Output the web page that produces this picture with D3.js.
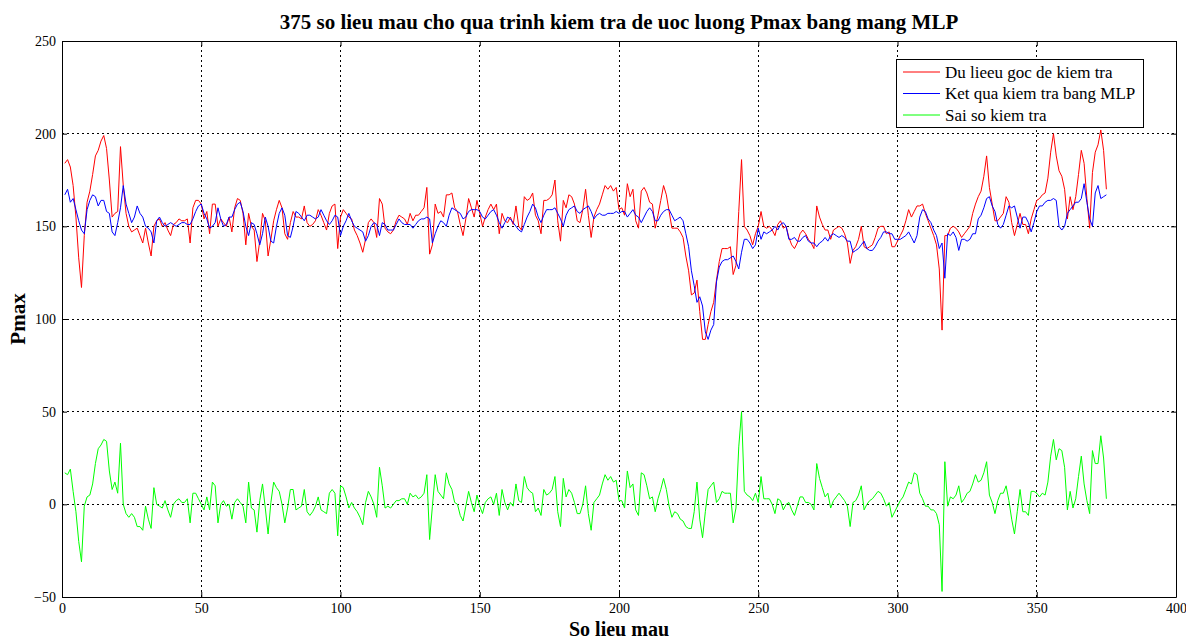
<!DOCTYPE html>
<html>
<head>
<meta charset="utf-8">
<script src="https://cdn.jsdelivr.net/npm/d3@7"></script>
<style>
  body { margin: 0; background: #fff; }
  svg text { font-family: "Liberation Serif", "Times New Roman", serif; }
</style>
</head>
<body>
<div id="wrapper"></div>
<script>
// values, sample index 1..375
const duLieuGoc = [
  184,186,182,172,155,133,117,145,163,169,178,188,191,196,199,192,175,155,157,158,193,172,157,150,147,
  148,149,145,141,149,141,134,150,153,154,150,152,148,145,151,152,154,153,153,154,141,160,164,164,162,
  154,158,146,162,162,150,154,152,150,155,147,160,165,164,157,140,157,150,148,131,142,157,153,134,143,
  153,159,164,160,146,143,152,158,155,155,154,161,152,150,151,153,159,156,152,148,157,161,162,138,155,
  159,157,155,154,148,145,141,136,143,152,154,152,144,165,162,149,147,146,148,153,156,155,154,151,157,
  153,156,156,158,160,171,135,140,162,157,158,155,167,167,168,160,158,151,145,154,165,160,155,164,157,
  150,155,159,162,159,162,146,157,153,152,155,151,161,150,148,166,164,165,168,156,153,146,164,164,165,
  167,175,153,142,164,160,167,166,162,153,152,159,170,156,144,155,159,162,167,172,170,172,169,171,159,
  160,156,173,166,170,153,149,169,171,168,163,162,149,156,164,172,167,158,149,149,149,147,144,134,126,
  113,114,121,104,89,89,97,104,109,121,131,138,138,138,139,124,129,158,186,150,148,145,140,146,150,
  158,150,149,150,148,145,151,153,149,150,144,140,138,141,146,148,146,143,141,138,161,155,151,148,148,
  143,148,149,150,149,146,141,130,137,139,143,150,139,138,139,140,144,149,150,150,146,147,139,139,142,
  145,148,153,159,155,158,161,161,162,157,153,149,145,140,127,94,145,145,149,150,149,147,144,146,148,
  150,157,162,166,169,177,188,171,162,153,153,155,157,166,163,152,145,151,157,151,151,146,154,159,164,
  165,167,168,176,190,200,188,180,177,170,154,166,159,166,178,191,184,165,149,179,190,194,202,191,170
];
const ketQuaMLP = [
  167,170,163,165,159,153,148,146,159,164,167,166,161,164,164,158,157,147,145,152,160,172,162,157,152,
  155,161,157,155,150,149,147,141,153,155,152,150,151,152,151,150,151,152,152,151,151,154,158,161,162,
  157,154,149,150,152,160,154,150,151,155,155,159,162,163,158,150,145,152,151,146,140,146,155,150,142,
  141,150,157,160,156,145,144,150,158,157,155,153,156,156,155,154,155,159,156,153,151,153,156,155,145,
  150,153,157,153,150,149,148,147,142,145,150,152,151,145,152,151,148,148,148,151,154,152,151,151,151,
  149,151,153,154,154,155,154,141,146,150,153,152,150,156,160,159,158,157,154,155,158,159,159,159,158,
  155,154,156,158,159,156,152,149,152,155,154,152,150,148,147,151,155,158,162,160,155,152,156,159,159,
  159,160,157,154,150,156,159,160,161,158,157,159,160,161,158,154,156,157,156,156,157,157,157,158,157,
  158,158,155,157,159,156,155,152,155,158,160,158,153,153,156,158,159,159,156,153,154,155,153,146,139,
  126,118,109,112,107,93,89,94,97,120,128,131,132,132,133,134,131,127,136,143,143,141,138,140,149,
  143,147,146,147,148,150,148,151,152,150,143,143,144,142,142,144,145,142,141,141,139,141,142,144,142,
  145,146,145,144,145,144,142,142,136,137,138,140,142,138,137,137,139,142,144,147,147,146,146,143,143,
  143,144,145,147,144,141,145,155,159,158,154,152,148,145,138,141,122,146,145,147,144,137,143,143,142,
  143,146,146,154,156,160,165,166,161,158,151,149,151,156,161,160,161,155,149,155,155,152,147,152,158,
  161,161,163,164,164,165,164,150,148,150,157,159,161,163,163,165,173,163,154,150,168,172,165,166,167
];
const saiSo = [
  17,16,19,7,-4,-20,-31,-1,4,5,11,22,30,32,35,34,18,8,12,6,33,0,-5,-7,-5,
  -7,-12,-12,-14,-1,-8,-13,9,0,-1,-2,2,-3,-7,0,2,3,1,1,3,-10,6,6,3,0,
  -3,4,-3,12,10,-10,0,2,-1,0,-8,1,3,1,-1,-10,12,-2,-3,-15,2,11,-2,-16,1,
  12,9,7,0,-10,-2,8,8,-3,-2,-1,8,-4,-6,-4,-1,4,-3,-4,-5,6,8,6,-17,10,
  9,4,-2,1,-2,-4,-7,-11,1,7,4,0,-7,20,10,-2,-1,-2,0,2,2,3,3,0,6,
  4,5,3,4,6,16,-19,-1,16,7,5,3,17,11,8,1,0,-6,-9,-1,7,1,-4,5,-1,
  -5,1,3,4,0,6,-6,8,1,-3,1,-1,11,2,1,15,9,7,6,-4,-2,-6,8,5,6,
  8,15,-4,-12,14,4,8,6,1,-5,-5,0,10,-5,-14,1,3,5,11,16,13,15,12,13,2,
  2,-2,18,9,11,-3,-6,17,16,10,3,4,-4,3,8,14,8,-1,-7,-4,-5,-8,-9,-12,-13,
  -13,-4,12,-8,-18,-4,8,10,12,1,3,7,6,6,6,-10,-2,31,50,7,5,4,2,6,1,
  15,3,3,3,0,-5,3,2,-3,0,1,-3,-6,-1,4,4,1,1,0,-3,22,14,9,4,6,
  -2,2,4,6,4,2,-1,-12,1,2,5,10,-3,0,2,3,5,7,6,3,-1,1,-7,-4,-1,
  2,4,8,12,11,17,16,6,3,-1,-1,-3,-3,-5,-11,-47,23,-1,4,3,5,10,1,3,6,
  7,11,16,12,13,17,23,5,1,-5,2,6,6,10,2,-8,-16,-4,8,-4,-4,-6,7,7,6,
  4,6,5,12,26,35,24,30,29,20,-3,7,-2,3,15,26,11,2,-5,29,22,22,37,25,3
];
const xTicks = [0, 50, 100, 150, 200, 250, 300, 350, 400];
const yTicks = [-50, 0, 50, 100, 150, 200, 250];
const legendNames = ["Du lieeu goc de kiem tra", "Ket qua kiem tra bang MLP", "Sai so kiem tra"];
const lineColors = ["#ff0000", "#0000ff", "#00ff00"];

const width = 1186, height = 639;
const margin = { top: 41, right: 10, bottom: 42, left: 62 };

const svg = d3.select("#wrapper").append("svg")
    .attr("width", width)
    .attr("height", height);

const x = d3.scaleLinear().domain([0, 400]).range([margin.left, width - margin.right]);
const y = d3.scaleLinear().domain([-50, 250]).range([height - margin.bottom, margin.top]);

// grid (dotted, like matlab "grid on")
const grid = svg.append("g");
grid.selectAll("line.gx").data(xTicks.slice(1, -1)).enter().append("line")
    .attr("x1", d => x(d)).attr("x2", d => x(d))
    .attr("y1", y(-50)).attr("y2", y(250))
    .attr("stroke", "#000").attr("stroke-width", 1)
    .attr("stroke-dasharray", "2,3")
    .attr("shape-rendering", "crispEdges");
grid.selectAll("line.gy").data(yTicks.slice(1, -1)).enter().append("line")
    .attr("x1", x(0)).attr("x2", x(400))
    .attr("y1", d => y(d)).attr("y2", d => y(d))
    .attr("stroke", "#000").attr("stroke-width", 1)
    .attr("stroke-dasharray", "2,3")
    .attr("shape-rendering", "crispEdges");

// series
const idx = d3.range(1, duLieuGoc.length + 1);
const line = d3.line().x(d => x(d[0])).y(d => y(d[1]));
[duLieuGoc, ketQuaMLP, saiSo].forEach((s, k) => {
    svg.append("path")
        .datum(idx.map((i, j) => [i, s[j]]))
        .attr("fill", "none")
        .attr("stroke", lineColors[k])
        .attr("stroke-width", 1)
        .attr("d", line);
});

// axes, ticks pointing inwards
const xAxis = svg.append("g")
    .attr("transform", `translate(0,${y(-50)})`)
    .call(d3.axisBottom(x).tickValues(xTicks).tickSizeInner(-5).tickSizeOuter(0).tickPadding(6));
const xAxisTop = svg.append("g")
    .attr("transform", `translate(0,${y(250)})`)
    .call(d3.axisTop(x).tickValues(xTicks).tickSizeInner(-5).tickSizeOuter(0).tickFormat(""));
const yAxis = svg.append("g")
    .attr("transform", `translate(${x(0)},0)`)
    .call(d3.axisLeft(y).tickValues(yTicks).tickSizeInner(-5).tickSizeOuter(0).tickPadding(6));
const yAxisRight = svg.append("g")
    .attr("transform", `translate(${x(400)},0)`)
    .call(d3.axisRight(y).tickValues(yTicks).tickSizeInner(-5).tickSizeOuter(0).tickFormat(""));
[xAxis, xAxisTop, yAxis, yAxisRight].forEach(a => {
    a.select(".domain").attr("stroke", "#000");
    a.selectAll("text").attr("font-size", 14).attr("fill", "#000")
        .style("font-family", "'Liberation Serif', serif");
});

// titles
svg.append("text")
    .attr("x", (x(0) + x(400)) / 2).attr("y", 29)
    .attr("text-anchor", "middle")
    .attr("font-size", 21).attr("font-weight", "bold")
    .text("375 so lieu mau cho qua trinh kiem tra de uoc luong Pmax bang mang MLP");
svg.append("text")
    .attr("x", (x(0) + x(400)) / 2).attr("y", 636)
    .attr("text-anchor", "middle")
    .attr("font-size", 20).attr("font-weight", "bold")
    .text("So lieu mau");
svg.append("text")
    .attr("transform", `translate(25,${(y(-50) + y(250)) / 2}) rotate(-90)`)
    .attr("text-anchor", "middle")
    .attr("font-size", 21).attr("font-weight", "bold")
    .text("Pmax");

// legend
const legend = svg.append("g").attr("transform", "translate(896,59)");
legend.append("rect")
    .attr("width", 247).attr("height", 68)
    .attr("fill", "#fff").attr("stroke", "#000").attr("stroke-width", 1)
    .attr("shape-rendering", "crispEdges");
legendNames.forEach((name, k) => {
    legend.append("line")
        .attr("x1", 7).attr("x2", 44)
        .attr("y1", 13 + k * 21.5).attr("y2", 13 + k * 21.5)
        .attr("stroke", lineColors[k]).attr("stroke-width", 1);
    legend.append("text")
        .attr("x", 49).attr("y", 18.5 + k * 21.5)
        .attr("font-size", 17)
        .text(name);
});
</script>
</body>
</html>
